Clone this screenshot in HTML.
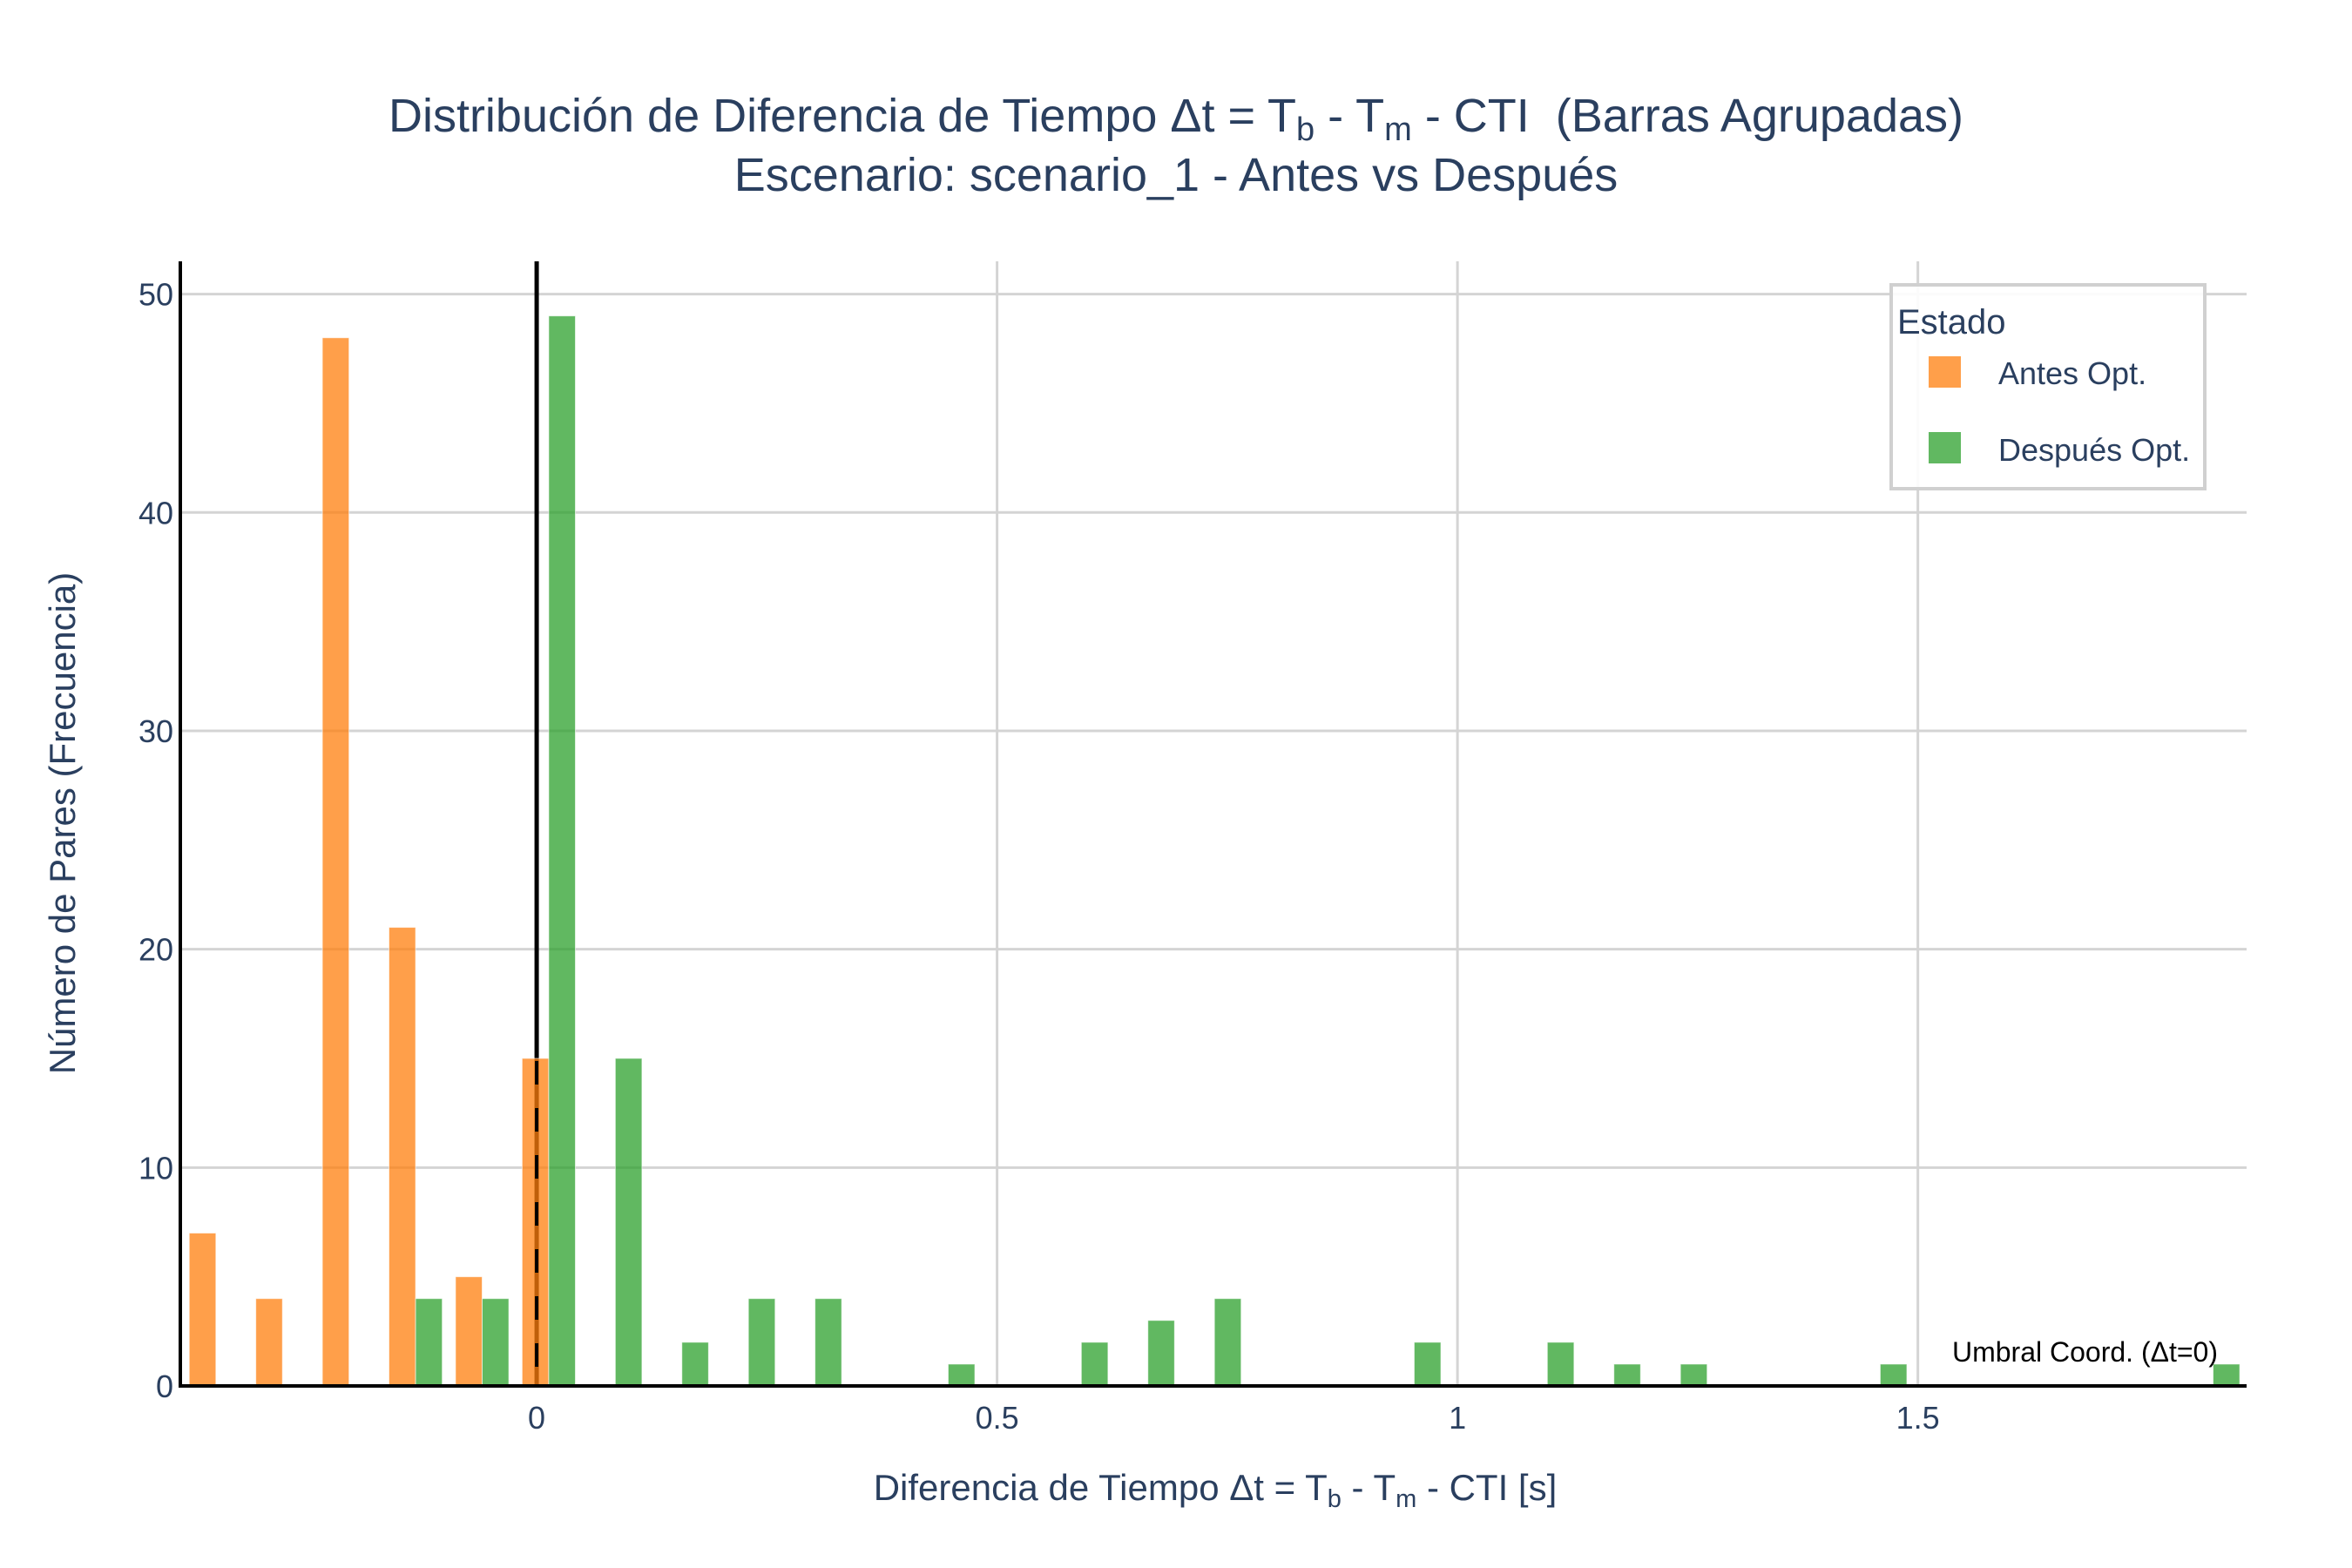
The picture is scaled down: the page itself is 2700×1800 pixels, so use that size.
<!DOCTYPE html>
<html><head><meta charset="utf-8">
<style>
html,body{margin:0;padding:0;background:#fff;}
svg{display:block;font-family:"Liberation Sans",Arial,sans-serif;}
text{white-space:pre;}
</style></head>
<body>
<svg id="chart" width="2700" height="1800" viewBox="0 0 2700 1800">
  <g id="grid"></g>
  <g id="zero-solid-layer"></g>
  <g id="bars"></g>
  <g id="overlay"></g>
  <g id="axes"></g>
  <text x="1350" y="151" text-anchor="middle" font-size="54" fill="#2a3f5f">Distribución de Diferencia de Tiempo Δt = T<tspan font-size="38" dy="10">b</tspan><tspan dy="-10"> - T</tspan><tspan font-size="38" dy="10">m</tspan><tspan dy="-10"> - CTI  (Barras Agrupadas)</tspan></text>
  <text x="1350" y="219" text-anchor="middle" font-size="54" fill="#2a3f5f">Escenario: scenario_1 - Antes vs Después</text>
  <text x="1395" y="1722" text-anchor="middle" font-size="42" fill="#2a3f5f">Diferencia de Tiempo Δt = T<tspan font-size="29" dy="8">b</tspan><tspan dy="-8"> - T</tspan><tspan font-size="29" dy="8">m</tspan><tspan dy="-8"> - CTI [s]</tspan></text>
  <text transform="translate(86,945) rotate(-90)" text-anchor="middle" font-size="42" fill="#2a3f5f">Número de Pares (Frecuencia)</text>
  <g>
    <rect x="2171" y="327" width="360" height="234" fill="#fff" fill-opacity="0.9" stroke="#d0d0d0" stroke-width="4"/>
    <text x="2178" y="383" font-size="40" fill="#2a3f5f">Estado</text>
    <g>
      <rect x="2214" y="409" width="37" height="36" fill="rgba(255,127,14,0.75)"/>
      <text x="2294" y="441" font-size="36" fill="#2a3f5f">Antes Opt.</text>
    </g>
    <g>
      <rect x="2214" y="496" width="37" height="36" fill="rgba(44,160,44,0.75)"/>
      <text x="2294" y="529" font-size="36" fill="#2a3f5f">Después Opt.</text>
    </g>
  </g>
  <text x="2546" y="1563" text-anchor="end" font-size="32" fill="#000">Umbral Coord. (Δt=0)</text>
</svg>
<script>
const binStart = -0.3484;
const binWidth = 0.0723;
const antesCounts = [7,4,48,21,5,15,0,0,0,0,0,0,0,0,0,0,0,0,0,0,0,0,0,0,0,0,0,0,0,0,0];
const despuesCounts = [0,0,0,4,4,49,15,2,4,4,0,1,0,2,3,4,0,0,2,0,2,1,1,0,0,1,0,0,0,0,1];
const xTicks = [0,0.5,1,1.5];
const xTickLabels = ["0","0.5","1","1.5"];
const yTicks = [0,10,20,30,40,50];
const yTickLabels = ["0","10","20","30","40","50"];

const NS="http://www.w3.org/2000/svg";
const L=207,R=2579,T=300,B=1591;
const xMin=-0.387,xMax=1.857,yMin=0,yMax=51.5;
const X=v=>L+(v-xMin)/(xMax-xMin)*(R-L);
const Y=v=>B-(v-yMin)/(yMax-yMin)*(B-T);
function mk(tag,attrs,parent){const e=document.createElementNS(NS,tag);for(const k in attrs)e.setAttribute(k,attrs[k]);parent.appendChild(e);return e;}
const grid=document.getElementById('grid'),bars=document.getElementById('bars'),axes=document.getElementById('axes'),ov=document.getElementById('overlay'),zs=document.getElementById('zero-solid-layer');
xTicks.forEach((t,i)=>{
  if(t!==0){const g=mk('line',{x1:X(t),x2:X(t),y1:T,y2:B,stroke:'#d4d4d4','stroke-width':3},grid);
  
  }
  const tx=mk('text',{x:X(t),y:1640,'text-anchor':'middle','font-size':36,fill:'#2a3f5f'},axes);tx.textContent=xTickLabels[i];
  
  
});
yTicks.forEach((t,i)=>{
  if(t!==0){const g=mk('line',{x1:L,x2:R,y1:Y(t),y2:Y(t),stroke:'#d4d4d4','stroke-width':3},grid);
  
  }
  const tx=mk('text',{x:199,y:Y(t)+13,'text-anchor':'end','font-size':36,fill:'#2a3f5f'},axes);tx.textContent=yTickLabels[i];
  
  
});
const zl=mk('line',{x1:X(0),x2:X(0),y1:T,y2:B,stroke:'#000','stroke-width':5},zs);


const bw=binWidth*0.4*(R-L)/(xMax-xMin);
function clipW(x,w){const x2=Math.min(x+w,R);return Math.max(0,x2-x);}
antesCounts.forEach((v,i)=>{
  if(!v)return;const c=X(binStart+i*binWidth);
  const r=mk('rect',{x:c-bw,y:Y(v),width:clipW(c-bw,bw),height:B-Y(v),fill:'rgba(255,127,14,0.75)',stroke:'rgba(255,255,255,0.6)','stroke-width':1},bars);
  
  
});
despuesCounts.forEach((v,i)=>{
  if(!v)return;const c=X(binStart+i*binWidth);
  const r=mk('rect',{x:c,y:Y(v),width:clipW(c,bw),height:B-Y(v),fill:'rgba(44,160,44,0.75)',stroke:'rgba(255,255,255,0.6)','stroke-width':1},bars);
  
  
});
const dl=mk('line',{x1:X(0),x2:X(0),y1:T,y2:B,stroke:'#000','stroke-width':4,'stroke-dasharray':'27,27'},ov);


const ya=mk('line',{x1:L,x2:L,y1:T,y2:B+2,stroke:'#000','stroke-width':4},axes);


const xa=mk('line',{x1:L-2,x2:R,y1:B,y2:B,stroke:'#000','stroke-width':4},axes);


</script>
</body></html>
